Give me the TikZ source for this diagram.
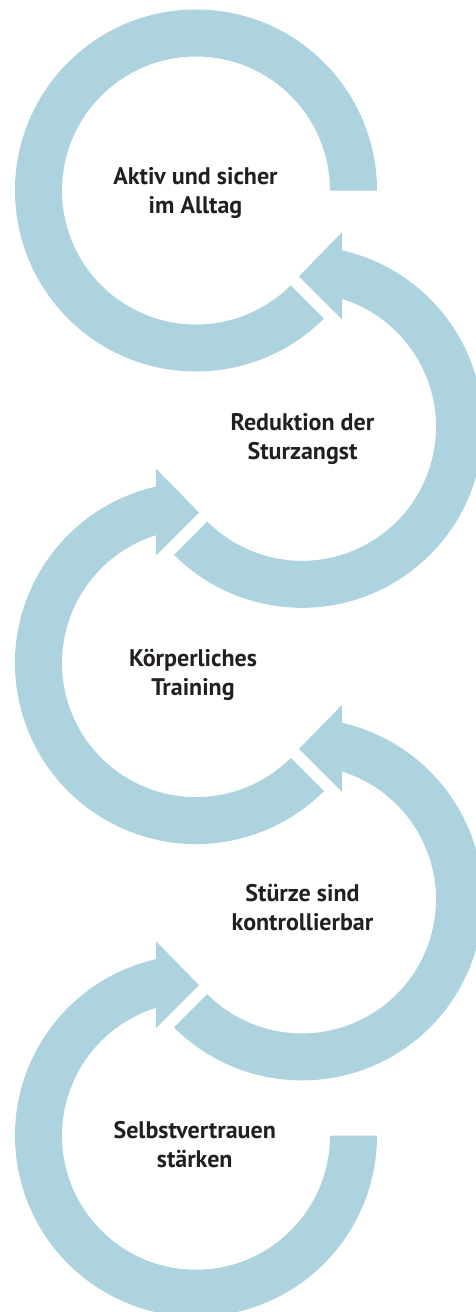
\documentclass[tikz,border=0pt]{standalone}
\usepackage{fontspec}
\setmainfont{PT Sans}
\usetikzlibrary{calc}
\definecolor{band}{RGB}{173,211,223}
\definecolor{ink}{RGB}{35,31,32}
\begin{document}
\begin{tikzpicture}[x=1pt,y=1pt,
  bandfill/.style={fill=band},
  lbl/.style={align=center, font=\bfseries\fontsize{24}{29}\selectfont, text=ink, inner sep=0pt, anchor=base}]
\useasboundingbox (0,0) rectangle (476,-1312);
\clip (0,0) rectangle (476,-1312);
\coordinate (c1) at (196,-190.5);
\coordinate (c2) at (302,-426.8);
\coordinate (c3) at (196,-663.1);
\coordinate (c4) at (302,-899.4);
\coordinate (c5) at (196,-1135.7);
% circle 1
\fill[bandfill] ($(c1)+(0:181)$) arc[start angle=0,end angle=315,radius=181]
  -- ($(c1)+(315:134)$) arc[start angle=315,end angle=0,radius=134] -- cycle;
% circle 2
\fill[bandfill] ($(c2)+(225:181)$) arc[start angle=225,end angle=437.233,radius=181]
  -- ($(c2)+(40,194.5)$) -- ($(c2)+(-3,150.5)$) -- ($(c2)+(40,107.5)$)
  -- ($(c2)+(432.633:134)$) arc[start angle=432.633,end angle=225,radius=134] -- cycle;
% circle 3
\fill[bandfill] ($(c3)+(102.767:181)$) arc[start angle=102.767,end angle=315,radius=181]
  -- ($(c3)+(315:134)$) arc[start angle=315,end angle=107.367,radius=134]
  -- ($(c3)+(-40,107.5)$) -- ($(c3)+(3,150.5)$) -- ($(c3)+(-40,194.5)$) -- cycle;
% circle 4
\fill[bandfill] ($(c4)+(225:181)$) arc[start angle=225,end angle=437.233,radius=181]
  -- ($(c4)+(40,194.5)$) -- ($(c4)+(-3,150.5)$) -- ($(c4)+(40,107.5)$)
  -- ($(c4)+(432.633:134)$) arc[start angle=432.633,end angle=225,radius=134] -- cycle;
% circle 5
\fill[bandfill] ($(c5)+(102.767:181)$) arc[start angle=102.767,end angle=360,radius=181]
  -- ($(c5)+(0:134)$) arc[start angle=360,end angle=107.367,radius=134]
  -- ($(c5)+(-40,107.5)$) -- ($(c5)+(3,150.5)$) -- ($(c5)+(-40,194.5)$) -- cycle;
% labels (anchor at baseline of last line)
\node[lbl] (t1) at (195.5,-213) {Aktiv und sicher\\im Alltag};
\node[lbl] (t2) at (302.5,-459) {Reduktion der\\Sturzangst};
\node[lbl] (t3) at (193,-695) {Körperliches\\Training};
\node[lbl] (t4) at (302.5,-930.5) {Stürze sind\\kontrollierbar};
\node[lbl] (t5) at (194.7,-1167) {Selbstvertrauen\\stärken};
\end{tikzpicture}
\end{document}
